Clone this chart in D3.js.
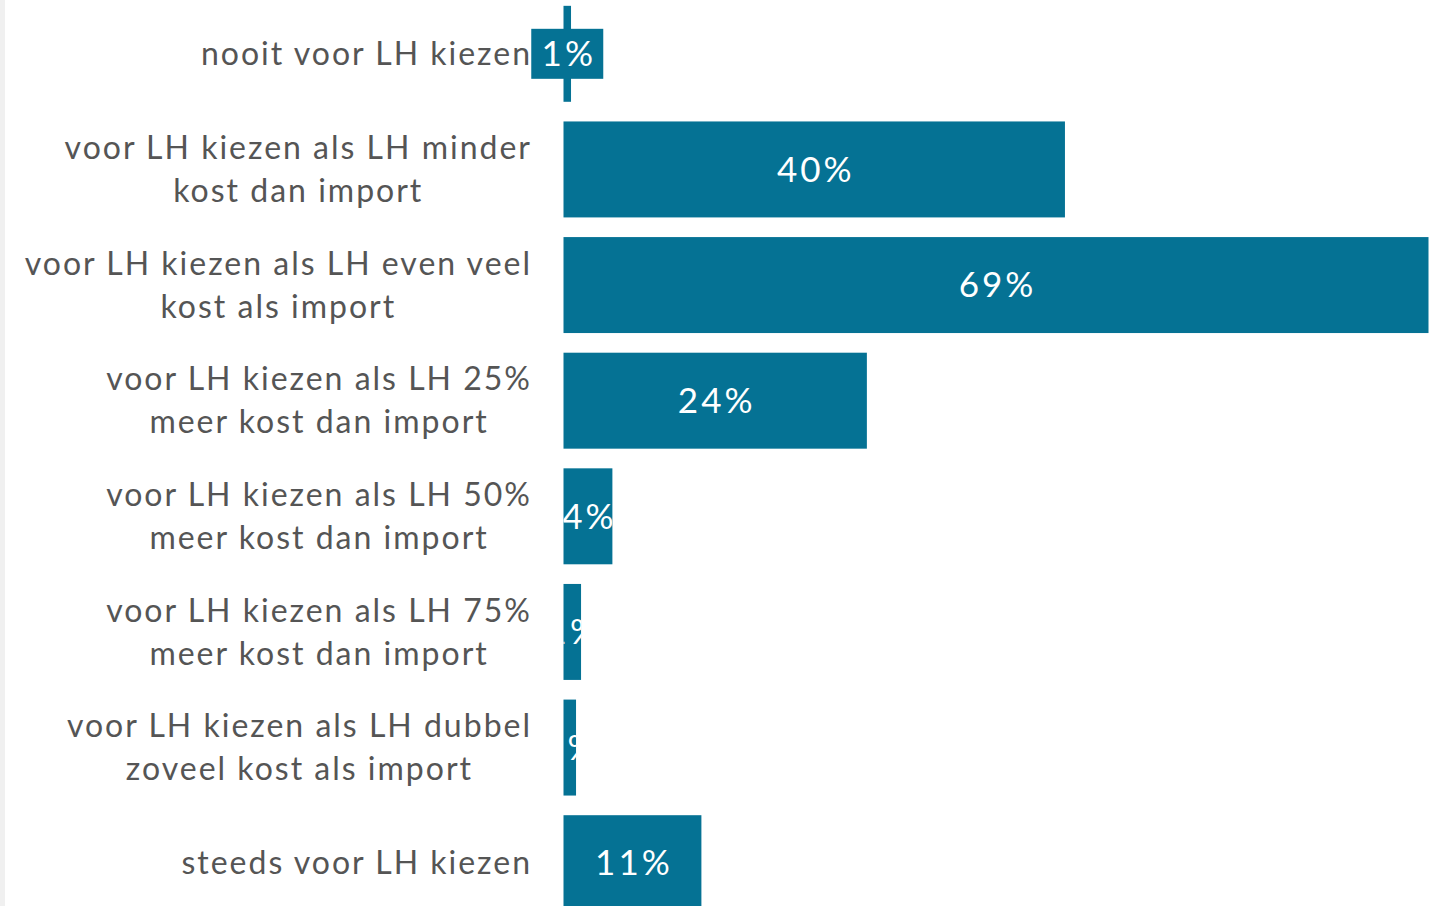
<!DOCTYPE html>
<html>
<head>
<meta charset="utf-8">
<script src="https://cdn.jsdelivr.net/npm/d3@7"></script>
<style>
  body { margin: 0; background: #fff; }
  svg { display: block; }
</style>
</head>
<body>
<div id="bar-chart"></div>
<script>
// answers, two lines each where the label wraps
const categories = [
  ["nooit voor LH kiezen"],
  ["voor LH kiezen als LH minder", "kost dan import"],
  ["voor LH kiezen als LH even veel", "kost als import"],
  ["voor LH kiezen als LH 25%", "meer kost dan import"],
  ["voor LH kiezen als LH 50%", "meer kost dan import"],
  ["voor LH kiezen als LH 75%", "meer kost dan import"],
  ["voor LH kiezen als LH dubbel", "zoveel kost als import"],
  ["steeds voor LH kiezen"]
];
const values = [0.6, 40, 69, 24.2, 3.9, 1.4, 1.0, 11];
const valueLabels = ["1%", "40%", "69%", "24%", "4%", "1%", "1%", "11%"];

const width = 1435;
const height = 906;
const barColor = "#057294";
const textColor = "#555555";

const svg = d3.select("#bar-chart")
  .append("svg")
  .attr("width", width)
  .attr("height", height);

svg.append("rect")
  .attr("width", 5)
  .attr("height", height)
  .attr("fill", "#f0f0f0");

const data = categories.map((c, i) => ({ id: i, lines: c, value: values[i], label: valueLabels[i] }));

const xScale = d3.scaleLinear().domain([0, 69]).range([563.5, 1428.5]);
const yScale = d3.scaleBand()
  .domain(data.map(d => d.id))
  .range([-4, 921])
  .paddingInner(0.17)
  .paddingOuter(0.085);

const defs = svg.append("defs");
data.forEach(d => {
  defs.append("clipPath")
    .attr("id", `clip-${d.id}`)
    .append("rect")
    .attr("x", xScale(0))
    .attr("y", yScale(d.id))
    .attr("width", xScale(d.value) - xScale(0))
    .attr("height", yScale.bandwidth());
});

svg.selectAll(".bar")
  .data(data)
  .join("rect")
  .attr("class", "bar")
  .attr("x", xScale(0))
  .attr("y", d => yScale(d.id))
  .attr("width", d => xScale(d.value) - xScale(0))
  .attr("height", yScale.bandwidth())
  .attr("fill", barColor);

// category labels
const catLabels = svg.selectAll(".cat-label")
  .data(data)
  .join("text")
  .attr("class", "cat-label")
  .attr("text-anchor", "middle")
  .attr("font-family", "Lato, sans-serif")
  .attr("font-size", 32)
  .attr("letter-spacing", 2)
  .attr("fill", textColor)
  .attr("y", d => yScale(d.id) + yScale.bandwidth() / 2);

catLabels.each(function (d) {
  const t = d3.select(this);
  const n = d.lines.length;
  d.lines.forEach((line, i) => {
    t.append("tspan")
      .attr("x", 0)
      .attr("dy", i === 0 ? `${0.35 - (n - 1) * 0.67}em` : "1.34em")
      .text(line);
  });
});

// right align the block while centring the lines under each other
catLabels.each(function () {
  const box = this.getBBox();
  d3.select(this).selectAll("tspan").attr("x", 532 - box.width / 2);
});

// value labels, clipped to their bar
svg.selectAll(".value-label")
  .data(data.slice(1))
  .join("text")
  .attr("class", "value-label")
  .attr("clip-path", d => `url(#clip-${d.id})`)
  .attr("x", d => (xScale(0) + xScale(d.value)) / 2 + 1.5)
  .attr("y", d => yScale(d.id) + yScale.bandwidth() / 2)
  .attr("dy", "0.35em")
  .attr("text-anchor", "middle")
  .attr("font-family", "Lato, sans-serif")
  .attr("font-size", 35)
  .attr("letter-spacing", 3)
  .attr("fill", "#fff")
  .text(d => d.label);

// first label sits on a box because the bar is too thin
const first = data[0];
const fx = (xScale(0) + xScale(first.value)) / 2;
const fy = yScale(first.id) + yScale.bandwidth() / 2;
svg.append("rect")
  .attr("x", fx - 36)
  .attr("y", fy - 25)
  .attr("width", 72)
  .attr("height", 50)
  .attr("fill", barColor);
svg.append("text")
  .attr("x", fx + 1.5)
  .attr("y", fy)
  .attr("dy", "0.35em")
  .attr("text-anchor", "middle")
  .attr("font-family", "Lato, sans-serif")
  .attr("font-size", 35)
  .attr("letter-spacing", 3)
  .attr("fill", "#fff")
  .text(first.label);
</script>
</body>
</html>
